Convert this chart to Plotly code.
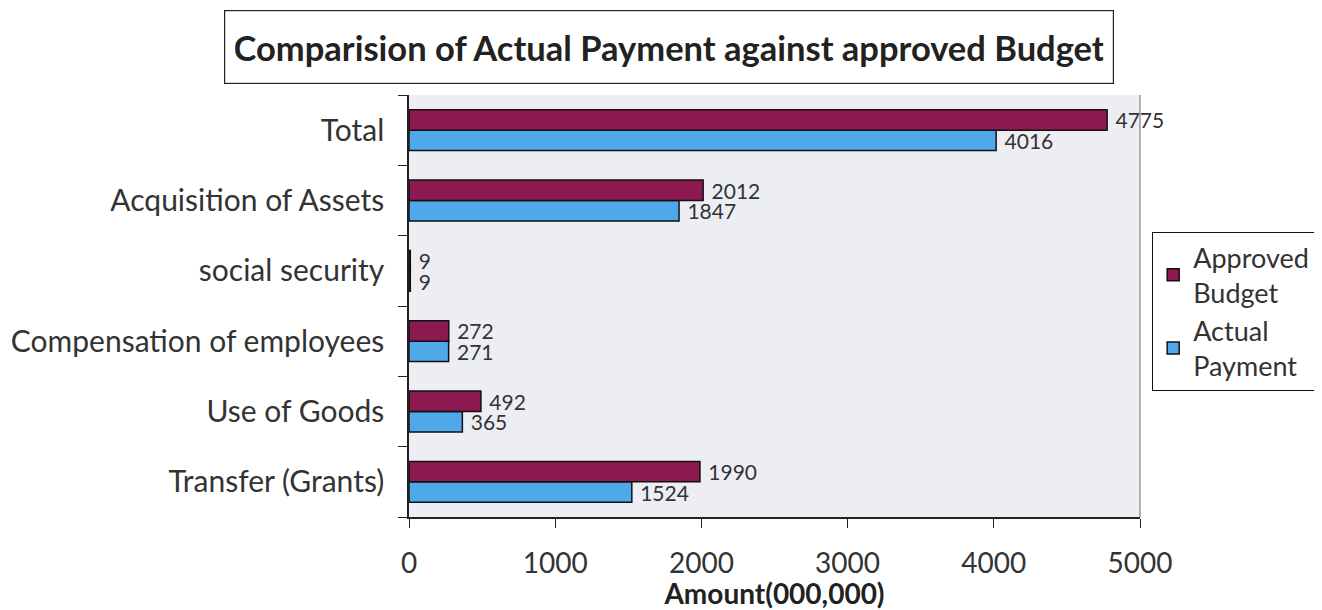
import plotly.graph_objects as go

categories = ["Transfer (Grants)", "Use of Goods", "Compensation of employees",
              "social security", "Acquisition of Assets", "Total"]
approved_budget = [1990, 492, 272, 9, 2012, 4775]
actual_payment = [1524, 365, 271, 9, 1847, 4016]
x_ticks = [0, 1000, 2000, 3000, 4000, 5000]

FONT = "Lato"
OFF = 8  # page body margin
W, H = 1322 - OFF, 610 - OFF

fig = go.Figure()
fig.add_trace(go.Bar(
    y=categories, x=actual_payment, orientation="h", name="Actual<br>Payment",
    marker=dict(color="#4fa8ea", line=dict(color="#111", width=1.5)),
    texttemplate="\u00a0%{x}", textposition="outside", constraintext="none",
    textfont=dict(family=FONT, size=21, color="#333"), cliponaxis=False,
    legendrank=2,
))
fig.add_trace(go.Bar(
    y=categories, x=approved_budget, orientation="h", name="Approved<br>Budget",
    marker=dict(color="#8c1a50", line=dict(color="#111", width=1.5)),
    texttemplate="\u00a0%{x}", textposition="outside", constraintext="none",
    textfont=dict(family=FONT, size=21, color="#333"), cliponaxis=False,
    legendrank=1,
))

L, R, T, B = 409 - OFF, 1322 - 1140, 95 - OFF, 610 - 517
pw, ph = W - L - R, H - T - B

fig.update_layout(
    width=W, height=H,
    margin=dict(l=L, r=R, t=T, b=B, pad=0, autoexpand=False),
    barmode="group", bargap=0.42, bargroupgap=0.0,
    paper_bgcolor="white", plot_bgcolor="#ededf4",
    font=dict(family=FONT, size=24, color="#222"),
    showlegend=True,
    legend=dict(
        x=(1152 - 409) / pw, y=(517 - 232) / ph, xanchor="left", yanchor="top",
        bordercolor="#111", borderwidth=1.2, bgcolor="white",
        font=dict(family=FONT, size=27, color="#333"),
        tracegroupgap=10, itemwidth=30,
    ),
    xaxis=dict(
        range=[0, 5000], tickvals=x_ticks, ticks="outside", ticklen=9,
        tickcolor="#222", showline=True, linecolor="#222", linewidth=1.5,
        showgrid=False, zeroline=False, ticklabelstandoff=12, automargin=False,
        tickfont=dict(family=FONT, size=28, color="#333"),
        title=dict(text="<b>Amount(000,000)</b>", standoff=4,
                   font=dict(family=FONT, size=28, color="#222")),
    ),
    yaxis=dict(
        tickson="boundaries", ticks="outside", ticklen=9, tickcolor="#222",
        showline=True, linecolor="#222", linewidth=1.5, showgrid=False,
        ticklabelstandoff=17, automargin=False,
        tickfont=dict(family=FONT, size=30, color="#333"),
    ),
)

fig.add_shape(type="line", xref="paper", yref="paper", x0=1, x1=1, y0=0, y1=1,
              line=dict(color="#999", width=1.5))

fig.add_annotation(
    text="<b>Comparision of Actual Payment against approved Budget</b>",
    xref="paper", yref="paper", x=(669 - 409) / pw, y=(517 - 47) / ph,
    xanchor="center", yanchor="middle", showarrow=False,
    font=dict(family=FONT, size=34.5, color="#222"),
    width=868, height=52, borderpad=10,
    bordercolor="#222", borderwidth=1.2, bgcolor="white",
)

fig.write_html("out.html")
